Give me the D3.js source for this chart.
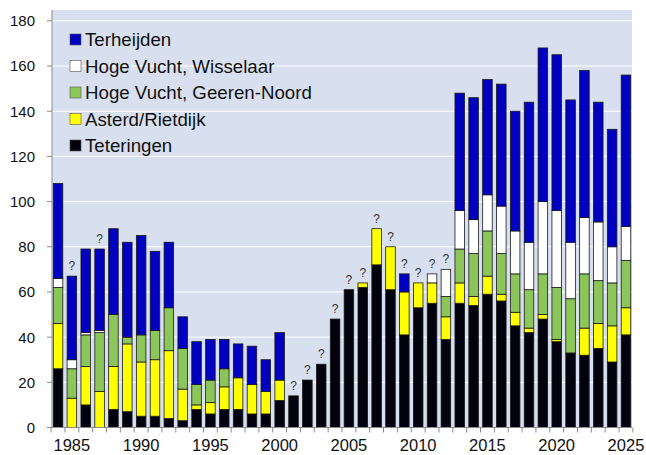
<!DOCTYPE html>
<html>
<head>
<meta charset="utf-8">
<script src="https://cdn.jsdelivr.net/npm/d3@7"></script>
<style>
  body { margin: 0; background: #fff; }
  svg { display: block; font-family: 'Liberation Sans', Arial, sans-serif; }
</style>
</head>
<body>
<div id="chart"></div>
<script>
const years = d3.range(1984, 2026);

// stacked bottom to top
const teteringen = [26, 0, 10, 0, 8, 7, 5, 5, 4, 3, 8, 6, 8, 8, 6, 6, 12, 14, 21, 28, 48,
  61, 62, 72, 61, 41, 53, 55, 39, 55, 54, 59, 56, 45, 42, 48, 38, 33, 32, 35, 29, 41];
const asterd = [20, 13, 17, 16, 19, 30, 24, 25, 30, 14, 2, 5, 10, 14, 13, 10, 9, 0, 0, 0, 0,
  0, 2, 16, 19, 19, 11, 9, 10, 9, 4, 8, 3, 6, 2, 2, 1, 0, 12, 11, 16, 12];
const geeren = [16, 13, 14, 26, 23, 3, 12, 13, 19, 18, 9, 10, 8, 0, 0, 0, 0, 0, 0, 0, 0,
  0, 0, 0, 0, 0, 0, 0, 9, 15, 19, 20, 18, 17, 17, 18, 23, 24, 24, 19, 19, 21];
const wisselaar = [4, 4, 1, 1, 0, 0, 0, 0, 0, 0, 0, 0, 0, 0, 0, 0, 0, 0, 0, 0, 0,
  0, 0, 0, 0, 0, 0, 4, 12, 17, 15, 16, 21, 19, 21, 32, 34, 25, 25, 26, 16, 15];
const terheijden = [42, 37, 37, 36, 38, 42, 44, 35, 29, 14, 19, 18, 13, 15, 17, 14, 21, 0, 0, 0, 0,
  0, 0, 0, 0, 8, 0, 0, 0, 52, 54, 51, 54, 53, 62, 68, 69, 63, 65, 53, 52, 67];

const uncertain = [1985, 1987, 2001, 2002, 2003, 2004, 2005, 2006, 2007, 2008, 2009, 2010, 2011, 2012];
const yTicks = [0, 20, 40, 60, 80, 100, 120, 140, 160, 180];
const xLabels = [1985, 1990, 1995, 2000, 2005, 2010, 2015, 2020, 2025];

const series = [
  { key: 'teteringen', name: 'Teteringen', values: teteringen, color: '#02020f' },
  { key: 'asterd', name: 'Asterd/Rietdijk', values: asterd, color: '#ffff00' },
  { key: 'geeren', name: 'Hoge Vucht, Geeren-Noord', values: geeren, color: '#8cc65a' },
  { key: 'wisselaar', name: 'Hoge Vucht, Wisselaar', values: wisselaar, color: '#ffffff' },
  { key: 'terheijden', name: 'Terheijden', values: terheijden, color: '#0000c0' }
];

const width = 646, height = 455;
const plotLeft = 52, plotRight = 632, plotTop = 10, plotBottom = 427.5;

const rows = years.map((yr, i) => {
  const r = { year: yr };
  series.forEach(s => { r[s.key] = s.values[i]; });
  return r;
});
const stack = d3.stack().keys(series.map(s => s.key));
const stacked = stack(rows);

const x = d3.scaleBand().domain(years).range([plotLeft, plotRight]).paddingInner(0.31).paddingOuter(0.09);
const y = d3.scaleLinear().domain([0, 184.8]).range([plotBottom, plotTop]);

const svg = d3.select('#chart').append('svg')
  .attr('width', width).attr('height', height);

// plot background
svg.append('rect')
  .attr('x', plotLeft).attr('y', plotTop)
  .attr('width', plotRight - plotLeft).attr('height', plotBottom - plotTop)
  .attr('fill', '#d8e0f0');

// gridlines
svg.append('g').selectAll('line')
  .data(yTicks.slice(1)).enter().append('line')
  .attr('x1', plotLeft).attr('x2', plotRight)
  .attr('y1', d => y(d)).attr('y2', d => y(d))
  .attr('stroke', '#ffffff').attr('stroke-width', 1);

// bars
const layers = svg.append('g').selectAll('g')
  .data(stacked).enter().append('g')
  .attr('fill', (d, i) => series[i].color);

layers.selectAll('rect')
  .data(d => d.filter(p => p[1] - p[0] > 0))
  .enter().append('rect')
  .attr('x', d => x(d.data.year))
  .attr('width', x.bandwidth())
  .attr('y', d => y(d[1]))
  .attr('height', d => y(d[0]) - y(d[1]))
  .attr('stroke', '#1a1a1a')
  .attr('stroke-width', 0.8);

// question marks
const totals = years.map((yr, i) => d3.sum(series, s => s.values[i]));
svg.append('g').selectAll('text')
  .data(uncertain).enter().append('text')
  .attr('x', d => x(d) + x.bandwidth() / 2)
  .attr('y', d => y(totals[years.indexOf(d)]) - 6)
  .attr('text-anchor', 'middle')
  .attr('font-size', 12)
  .attr('fill', '#333')
  .text('?');

// axes
svg.append('line')
  .attr('x1', plotLeft).attr('x2', plotLeft).attr('y1', plotTop).attr('y2', plotBottom)
  .attr('stroke', '#8a8a8a');
svg.append('line')
  .attr('x1', plotLeft).attr('x2', plotRight).attr('y1', plotBottom).attr('y2', plotBottom)
  .attr('stroke', '#8a8a8a');

const yAxis = svg.append('g');
yAxis.selectAll('line')
  .data(yTicks).enter().append('line')
  .attr('x1', plotLeft - 5).attr('x2', plotLeft)
  .attr('y1', d => y(d)).attr('y2', d => y(d))
  .attr('stroke', '#8a8a8a');
yAxis.selectAll('text')
  .data(yTicks).enter().append('text')
  .attr('x', 35).attr('y', d => y(d))
  .attr('dy', '0.36em')
  .attr('text-anchor', 'end')
  .attr('font-size', 15)
  .attr('fill', '#111')
  .text(d => d);

// x ticks at band boundaries
const step = x.step();
const boundaries = years.map(yr => x(yr) + x.bandwidth() / 2 - step / 2);
boundaries.push(x(2025) + x.bandwidth() / 2 + step / 2);
svg.append('g').selectAll('line')
  .data(boundaries).enter().append('line')
  .attr('x1', d => d).attr('x2', d => d)
  .attr('y1', plotBottom).attr('y2', plotBottom + 5)
  .attr('stroke', '#8a8a8a');

svg.append('g').selectAll('text')
  .data(xLabels).enter().append('text')
  .attr('x', d => x(d) + x.bandwidth() / 2)
  .attr('y', 451)
  .attr('text-anchor', 'middle')
  .attr('font-size', 16.5)
  .attr('fill', '#111')
  .text(d => d);

// legend (top to bottom: reverse of stack)
const legend = svg.append('g').selectAll('g')
  .data(series.slice().reverse()).enter().append('g')
  .attr('transform', (d, i) => `translate(70, ${34 + i * 26.5})`);
legend.append('rect')
  .attr('width', 11).attr('height', 11)
  .attr('fill', d => d.color)
  .attr('stroke', '#555').attr('stroke-width', 0.6);
legend.append('text')
  .attr('x', 15).attr('y', 5.5)
  .attr('dy', '0.36em')
  .attr('font-size', 18.7)
  .attr('fill', '#111')
  .text(d => d.name);
</script>
</body>
</html>
